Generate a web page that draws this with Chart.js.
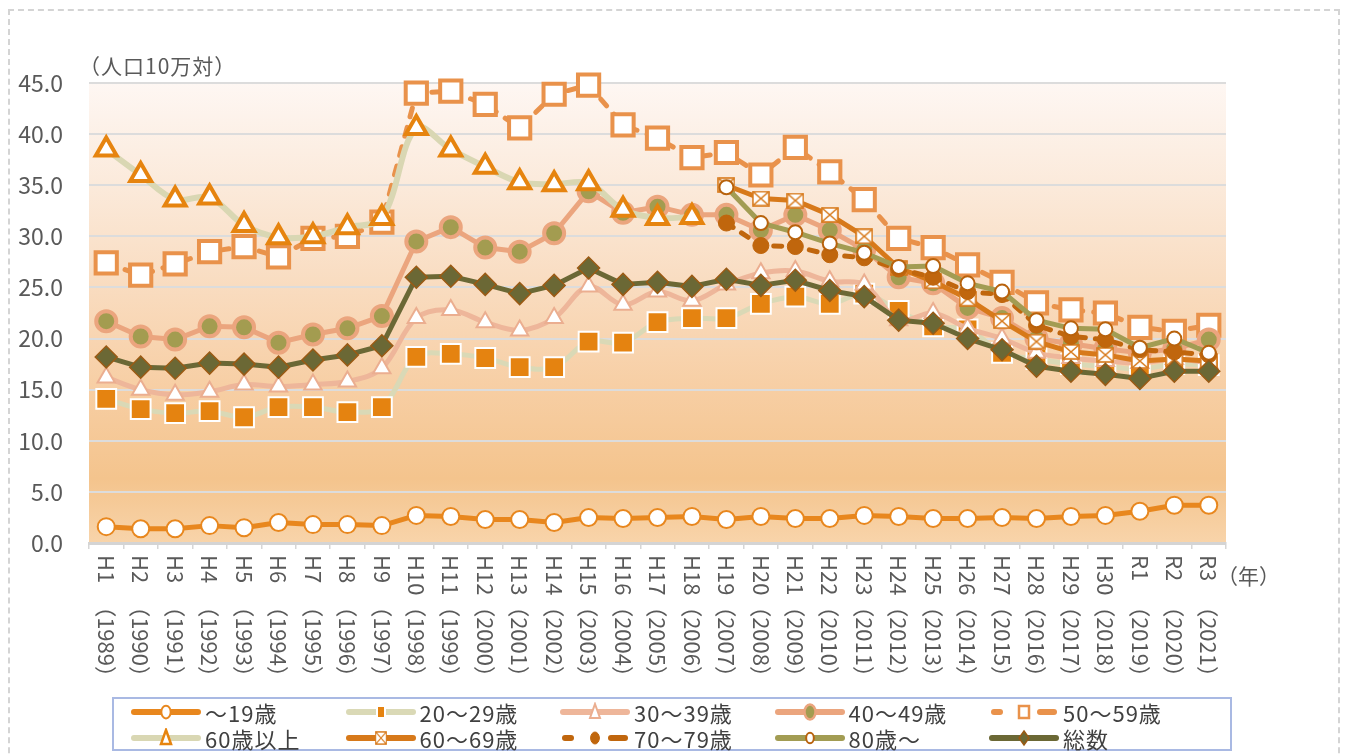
<!DOCTYPE html>
<html>
<head>
<meta charset="utf-8">
<script src="https://cdn.jsdelivr.net/npm/chart.js@4.4.1/dist/chart.umd.min.js"></script>
<style>
  html, body { margin:0; padding:0; overflow:hidden; background:#fff; }
  body { font-family:'Noto Sans CJK JP','Noto Sans',sans-serif; }
  #frame { position:absolute; left:8px; top:9px; width:1328px; height:800px; border:2px dashed #d4d4d4; }
  #wrap { position:absolute; left:0; top:0; width:1348px; height:754px; }
  #unit { position:absolute; left:79px; top:50px; font-size:21px; letter-spacing:1px; color:#595959; }
  #legend {
    position:absolute; left:112px; top:697px; width:1120px; height:54px;
    border:2px solid #a9b9e3; background:#fff; box-sizing:border-box;
    padding:0 0 0 16px; display:grid;
    grid-template-columns:repeat(5, 214.5px); grid-auto-rows:26px;
  }
  .item { display:flex; align-items:center; font-size:22px; letter-spacing:1px; color:#404040; white-space:nowrap; }
  .item canvas { margin-right:3px; }
</style>
</head>
<body>
<div id="frame"></div>
<div id="wrap"><canvas id="myChart" width="1348" height="754"></canvas></div>
<div id="unit">（人口10万対）</div>
<div id="legend"></div>
<script>
// categories
const eras = ['H1','H2','H3','H4','H5','H6','H7','H8','H9','H10','H11','H12','H13','H14','H15',
  'H16','H17','H18','H19','H20','H21','H22','H23','H24','H25','H26','H27','H28','H29','H30','R1','R2','R3'];
const years = ['1989','1990','1991','1992','1993','1994','1995','1996','1997','1998','1999','2000',
  '2001','2002','2003','2004','2005','2006','2007','2008','2009','2010','2011','2012','2013','2014',
  '2015','2016','2017','2018','2019','2020','2021'];

// series (人口10万対)
const age19 = [1.6,1.4,1.4,1.7,1.5,2.0,1.8,1.8,1.7,2.7,2.6,2.3,2.3,2.0,2.5,2.4,2.5,2.6,2.3,2.6,2.4,2.4,2.7,2.6,2.4,2.4,2.5,2.4,2.6,2.7,3.1,3.7,3.7];
const age20s = [14.1,13.1,12.7,12.9,12.3,13.3,13.3,12.8,13.3,18.2,18.5,18.1,17.2,17.2,19.7,19.6,21.6,22.0,22.0,23.4,24.1,23.4,24.4,22.7,21.2,20.9,18.6,18.0,17.5,17.3,17.0,17.5,17.4];
const age30s = [16.2,15.0,14.5,14.8,15.5,15.3,15.5,15.8,17.1,22.0,22.8,21.6,20.8,22.0,25.1,23.3,24.6,23.7,25.3,26.4,26.6,25.6,25.3,21.8,22.5,21.0,20.0,18.6,18.1,17.8,17.6,18.0,17.6];
const age40s = [21.7,20.2,19.9,21.2,21.1,19.6,20.4,21.0,22.2,29.5,30.9,28.9,28.5,30.3,34.4,32.3,32.9,32.1,32.1,30.6,32.1,30.6,28.7,26.0,25.4,23.0,22.0,20.0,19.5,19.0,18.6,19.0,19.9];
const age50s = [27.4,26.2,27.3,28.5,29.0,28.0,29.8,30.0,31.4,44.0,44.2,42.9,40.6,43.9,44.8,40.9,39.6,37.7,38.2,36.0,38.7,36.3,33.6,29.8,28.9,27.2,25.5,23.5,22.8,22.5,21.1,20.7,21.3];
const age60plus = [38.5,36.0,33.6,33.8,31.1,29.9,30.0,30.9,31.8,40.6,38.5,36.8,35.3,35.1,35.2,32.6,31.8,31.9,
  null,null,null,null,null,null,null,null,null,null,null,null,null,null,null];
const age60s = [null,null,null,null,null,null,null,null,null,null,null,null,null,null,null,null,null,null,
  35.0,33.7,33.5,32.1,30.0,26.9,25.6,23.9,21.7,19.7,18.7,18.4,17.8,18.0,17.8];
const age70s = [null,null,null,null,null,null,null,null,null,null,null,null,null,null,null,null,null,null,
  31.3,29.1,29.0,28.2,27.9,26.8,26.0,24.6,24.3,21.3,20.2,19.9,18.9,18.7,18.4];
const age80plus = [null,null,null,null,null,null,null,null,null,null,null,null,null,null,null,null,null,null,
  34.8,31.3,30.4,29.3,28.4,27.0,27.1,25.4,24.6,21.8,21.0,20.9,19.1,20.0,18.6];
const total = [18.2,17.2,17.1,17.6,17.5,17.2,17.9,18.4,19.3,26.0,26.1,25.3,24.4,25.2,26.9,25.3,25.5,25.1,25.8,25.2,25.7,24.7,24.1,21.8,21.5,20.0,18.9,17.3,16.8,16.5,16.1,16.8,16.8];

// y ticks
const yMin = 0, yMax = 45, yStep = 5;

const FONT = "'Noto Sans CJK JP','Noto Sans',sans-serif";
Chart.defaults.font.family = FONT;

function crossBox(color, w, h) {
  const c = document.createElement('canvas');
  c.width = w; c.height = h;
  const g = c.getContext('2d');
  g.fillStyle = '#fff';
  g.fillRect(1, 1, w - 2, h - 2);
  g.strokeStyle = color;
  g.lineWidth = 1.6;
  g.strokeRect(1, 1, w - 2, h - 2);
  g.beginPath();
  g.moveTo(1, 1); g.lineTo(w - 1, h - 1);
  g.moveTo(w - 1, 1); g.lineTo(1, h - 1);
  g.stroke();
  return c;
}
const xBox = crossBox('#d7791a', 18, 16);

const series = [
  { label:'～19歳', data:age19, line:'#e8871e', width:5, style:'circle', r:8.5, fill:'#fff', edge:'#e8871e', ew:2, order:9 },
  { label:'20～29歳', data:age20s, line:'#dad9b6', width:5, tension:0.35, style:'rect', r:14, fill:'#e58310', edge:'#fff', ew:2, order:7 },
  { label:'30～39歳', data:age30s, line:'#eeb69a', width:5, tension:0.35, style:'triangle', r:10, fill:'#fff', edge:'#ebae90', ew:2, order:6 },
  { label:'40～49歳', data:age40s, line:'#eba57e', width:5, style:'circle', r:10, fill:'#a39c50', edge:'#eba57e', ew:4, order:5 },
  { label:'50～59歳', data:age50s, line:'#e9924b', width:5, dash:[9, 11], style:'rect', r:15, fill:'#fff', edge:'#e9924b', ew:4, order:8 },
  { label:'60歳以上', data:age60plus, line:'#d9d7b3', width:6, tension:0.35, style:'triangle', r:12, fill:'#fff', edge:'#e6840f', ew:4, order:4 },
  { label:'60～69歳', data:age60s, line:'#d7791a', width:5, style:xBox, r:8, fill:'#fff', edge:'#d7791a', ew:1.5, order:3 },
  { label:'70～79歳', data:age70s, line:'#c0660d', width:5, dash:[8, 10], style:'circle', r:8, fill:'#c0660d', edge:'#c0660d', ew:1, order:2 },
  { label:'80歳～', data:age80plus, line:'#a29c53', width:5, style:'circle', r:7, fill:'#fff', edge:'#b8620c', ew:2, order:1 },
  { label:'総数', data:total, line:'#6b6835', width:5, style:'rectRot', r:11, fill:'#6b6835', edge:'#9a5a14', ew:1.5, order:0 }
];

const datasets = series.map(s => ({
  label: s.label,
  data: s.data,
  order: s.order,
  borderColor: s.line,
  borderWidth: s.width,
  borderDash: s.dash || [],
  borderCapStyle: s.dash ? 'round' : 'butt',
  borderJoinStyle: 'round',
  tension: s.tension || 0,
  fill: false,
  clip: false,
  pointStyle: s.style,
  pointRadius: s.r,
  pointBackgroundColor: s.fill,
  pointBorderColor: s.edge,
  pointBorderWidth: s.ew
}));

const bgPlugin = {
  id: 'bg',
  beforeDraw(chart) {
    const { ctx, chartArea: a } = chart;
    const g = ctx.createLinearGradient(0, a.top, 0, a.bottom);
    g.addColorStop(0, '#fef7f3');
    g.addColorStop(0.22, '#fbeadb');
    g.addColorStop(0.44, '#f9dcc0');
    g.addColorStop(0.67, '#f7cea3');
    g.addColorStop(0.86, '#f4c48d');
    g.addColorStop(1, '#f8d4aa');
    ctx.save();
    ctx.fillStyle = g;
    ctx.fillRect(a.left, a.top, a.right - a.left, a.bottom - a.top);
    ctx.restore();
  }
};

// x labels read top-to-bottom (rotated clockwise)
const xLabelPlugin = {
  id: 'xlabels',
  afterDraw(chart) {
    const { ctx, scales: { x } } = chart;
    ctx.save();
    ctx.font = '22px ' + FONT;
    ctx.fillStyle = '#595959';
    ctx.textBaseline = 'middle';
    eras.forEach((era, i) => {
      const px = x.getPixelForTick(i);
      ctx.save();
      ctx.translate(px, 0);
      ctx.rotate(Math.PI / 2);
      ctx.textAlign = 'left';
      ctx.fillText(era, 555, 0);
      ctx.textAlign = 'right';
      ctx.fillText('（' + years[i] + '）', 688, 0);
      ctx.restore();
    });
    ctx.font = '21px ' + FONT;
    ctx.textAlign = 'left';
    ctx.fillText('（年）', 1217, 576);
    ctx.restore();
  }
};

new Chart(document.getElementById('myChart'), {
  type: 'line',
  data: { labels: eras, datasets: datasets },
  options: {
    responsive: false,
    animation: false,
    events: [],
    layout: { padding: { left: 13, right: 122, top: 83, bottom: 203 } },
    plugins: { legend: { display: false }, tooltip: { enabled: false } },
    scales: {
      x: {
        offset: true,
        grid: { offset: true, drawOnChartArea: false, tickLength: 6, color: '#d6d6d6', lineWidth: 1.5 },
        border: { color: '#d4d4d4', width: 3 },
        ticks: { display: false },
        afterFit(scale) { scale.height = 8; }
      },
      y: {
        min: yMin,
        max: yMax,
        grid: { color: '#dcdcdc', lineWidth: 2, drawTicks: false },
        border: { display: false },
        ticks: {
          stepSize: yStep,
          padding: 26,
          color: '#595959',
          font: { size: 23 },
          callback: v => v.toFixed(1)
        },
        afterFit(scale) { scale.width = 76; }
      }
    }
  },
  plugins: [bgPlugin, xLabelPlugin]
});

// legend
function drawMarker(g, s, x, y) {
  g.setLineDash([]);
  g.fillStyle = s.fill;
  g.strokeStyle = s.edge;
  g.lineWidth = Math.min(s.ew, 2.5);
  g.beginPath();
  if (s.style === 'circle') {
    g.ellipse(x, y, s.r * 0.55, s.r * 0.75, 0, 0, Math.PI * 2);
  } else if (s.style === 'rect') {
    if (s.fill === '#fff') g.rect(x - 5, y - 6, 10, 12);
    else g.rect(x - 4, y - 6, 8, 12);
  } else if (s.style === 'triangle') {
    g.moveTo(x, y - 8); g.lineTo(x + 5, y + 6); g.lineTo(x - 5, y + 6); g.closePath();
  } else if (s.style === 'rectRot') {
    g.moveTo(x, y - 7); g.lineTo(x + 5, y); g.lineTo(x, y + 7); g.lineTo(x - 5, y); g.closePath();
  } else {
    g.drawImage(s.style, x - 6, y - 7, 12, 14);
    return;
  }
  g.fill();
  g.stroke();
}

const legend = document.getElementById('legend');
series.forEach(s => {
  const item = document.createElement('div');
  item.className = 'item';
  const cv = document.createElement('canvas');
  cv.width = 72; cv.height = 20;
  const g = cv.getContext('2d');
  g.strokeStyle = s.line;
  g.lineWidth = 6;
  g.lineCap = 'round';
  if (s.dash) {
    g.beginPath(); g.moveTo(6, 10); g.lineTo(12, 10); g.stroke();
    g.beginPath(); g.moveTo(52, 10); g.lineTo(66, 10); g.stroke();
  } else {
    g.beginPath(); g.moveTo(4, 10); g.lineTo(68, 10); g.stroke();
  }
  drawMarker(g, s, 36, 10);
  const t = document.createElement('span');
  t.textContent = s.label;
  item.appendChild(cv);
  item.appendChild(t);
  legend.appendChild(item);
});
</script>
</body>
</html>
